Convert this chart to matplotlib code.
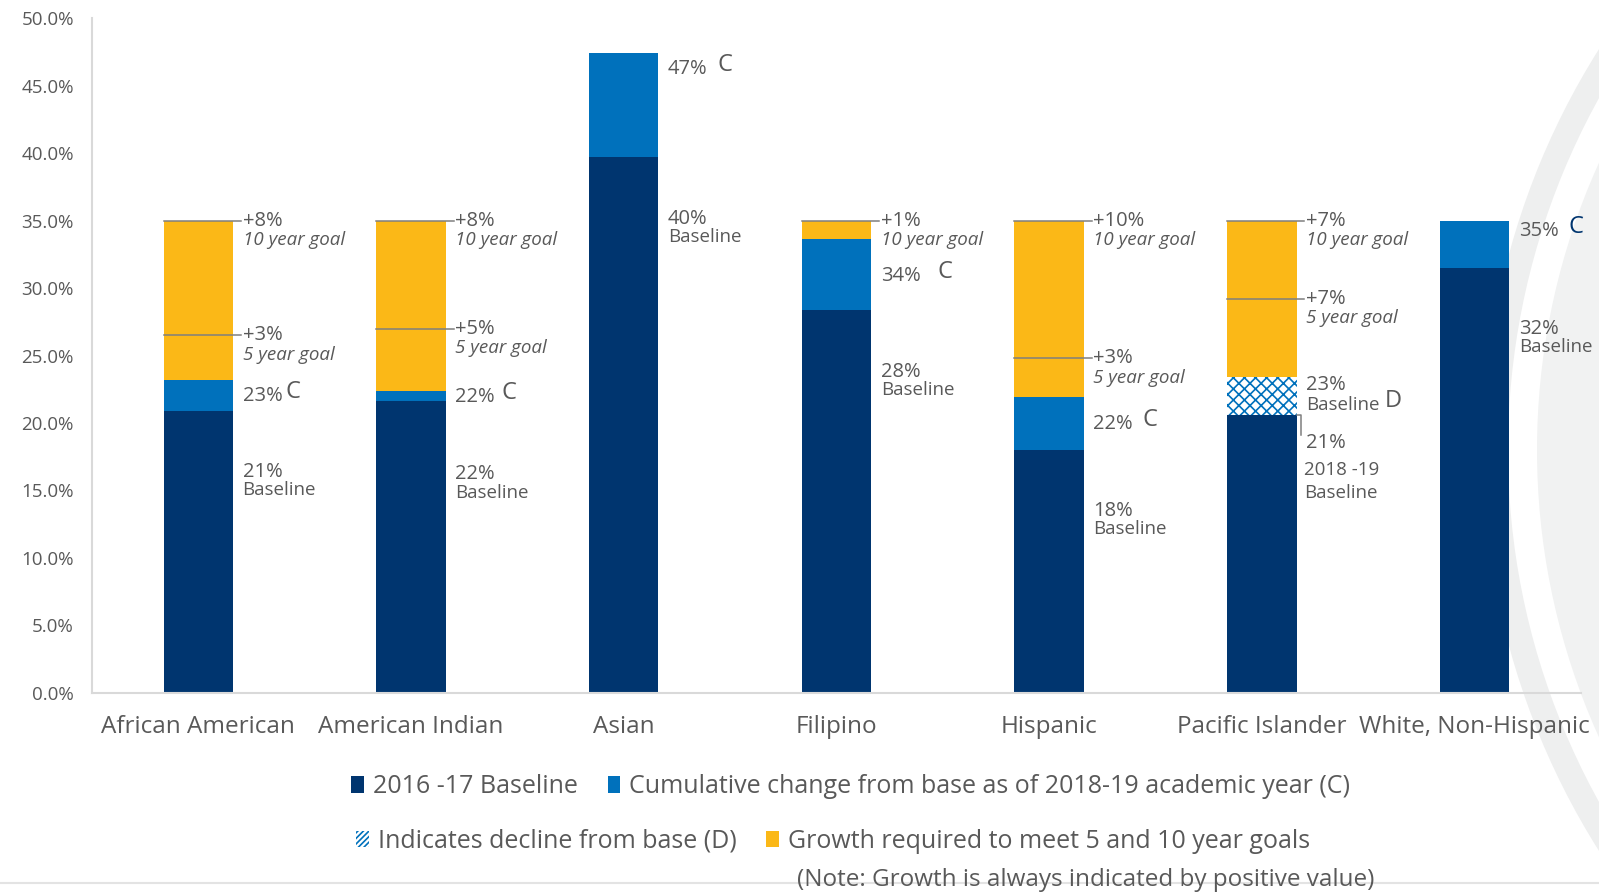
import numpy as np
import matplotlib
matplotlib.use("Agg")
import matplotlib.pyplot as plt
from matplotlib.patches import Patch, Circle, Wedge

# ---- data (percent) ----
categories = ['African American', 'American Indian', 'Asian', 'Filipino',
              'Hispanic', 'Pacific Islander', 'White, Non-Hispanic']
baseline_1617 = [20.9, 21.6, 39.7, 28.4, 18.0, 23.4, 31.5]
current_1819 = [23.2, 22.4, 47.4, 33.6, 21.9, 20.6, 35.0]
goal_5yr = [26.5, 27.0, np.nan, np.nan, 24.8, 29.2, np.nan]
goal_10yr = [35.0, 35.0, np.nan, 35.0, 35.0, 35.0, np.nan]

base_labels = ['21%', '22%', '40%', '28%', '18%', '23%', '32%']
cur_labels = ['23%', '22%', '47%', '34%', '22%', '21%', '35%']
goal5_labels = ['+3%', '+5%', '', '', '+3%', '+7%', '']
goal10_labels = ['+8%', '+8%', '', '+1%', '+10%', '+7%', '']

NAVY = '#00356F'
BLUE = '#0071BC'
GOLD = '#FBB817'
GRAY = '#595959'
LINE = '#7F7F7F'

plt.rcParams['font.family'] = ['Open Sans', 'DejaVu Sans']
plt.rcParams['hatch.linewidth'] = 1.2

fig = plt.figure(figsize=(15.99, 8.93), dpi=100)

# background watermark ring + bottom rule
bg = fig.add_axes([0, 0, 1, 1], zorder=0)
bg.set_xlim(0, 1599)
bg.set_ylim(893, 0)
bg.axis('off')
bg.add_patch(Circle((2234, 450), 697, color='#F1F2F2', lw=0))
bg.add_patch(Wedge((2234, 450), 751, 0, 360, width=25, color='#EEEFEF', lw=0))
bg.plot([0, 1599], [883, 883], color='#E3E3E3', lw=1.5)

ax = fig.add_axes([0.0575, 0.224, 0.9312, 0.7558], zorder=1)
ax.patch.set_alpha(0)

x = np.arange(len(categories))
base = np.array(baseline_1617)
cur = np.array(current_1819)
g5 = np.array(goal_5yr)
g10 = np.array(goal_10yr)
w = 0.326
hw = w / 2

lower = np.minimum(base, cur)
upper = np.maximum(base, cur)
ax.bar(x, lower, w, color=NAVY, zorder=2)
ax.bar(x, np.where(cur > base, cur - base, 0), w, bottom=base, color=BLUE, zorder=2)
ax.bar(x, np.where(cur < base, base - cur, 0), w, bottom=cur, color='white',
       hatch='xxx', edgecolor=BLUE, linewidth=0, zorder=2)
ax.bar(x, np.nan_to_num(g10 - upper), w, bottom=upper, color=GOLD, zorder=2)

tx = hw + 0.045
fs = 14.5     # percent labels
fs2 = 13.5    # words

def goal_label(i, val, s):
    ax.plot([x[i] - hw, x[i] + tx - 0.008], [val, val], color=LINE, lw=1.1, zorder=3)
    ax.text(x[i] + tx, val, s, color=GRAY, fontsize=fs, va='center', ha='left')

for i in range(len(categories)):
    if not np.isnan(g10[i]):
        goal_label(i, g10[i], goal10_labels[i])
        ax.text(x[i] + tx, g10[i] - 1.45, '10 year goal', color=GRAY, fontsize=fs2,
                style='italic', va='center')
    if not np.isnan(g5[i]):
        goal_label(i, g5[i], goal5_labels[i])
        ax.text(x[i] + tx, g5[i] - 1.45, '5 year goal', color=GRAY, fontsize=fs2,
                style='italic', va='center')

# label positions
change_label_y = [22.0, 21.9, 46.2, 30.9, 19.9, None, 34.2]
base_label_drop = [4.5, 5.4, 4.6, 4.6, 4.5, None, 4.5]
c_gap = [2, 5, 7, 12, 7, None, 7]

for i in range(len(categories)):
    if cur[i] >= base[i]:
        t = ax.text(x[i] + tx, change_label_y[i], cur_labels[i], color=GRAY,
                    fontsize=fs, va='center')
        ax.annotate('C', xy=(1, 0.1), xycoords=t, xytext=(c_gap[i], 0),
                    textcoords='offset points', fontsize=17, va='bottom',
                    color=NAVY if i == 6 else GRAY)
        yb = base[i] - base_label_drop[i]
        ax.text(x[i] + tx, yb, base_labels[i], color=GRAY, fontsize=fs, va='center')
        ax.text(x[i] + tx, yb - 1.35, 'Baseline', color=GRAY, fontsize=fs2, va='center')
    else:
        # decline: 2016-17 baseline above, 2018-19 value below
        ax.text(x[i] + tx, base[i] - 0.6, base_labels[i], color=GRAY, fontsize=fs, va='center')
        t = ax.text(x[i] + tx, base[i] - 2.1, 'Baseline', color=GRAY, fontsize=fs2,
                    va='center')
        ax.annotate('D', xy=(1, 0.08), xycoords=t, xytext=(4, 0),
                    textcoords='offset points', fontsize=17, va='bottom', color=GRAY)
        bx = x[i] + hw + 0.02
        ax.plot([x[i] + hw, bx, bx], [cur[i], cur[i], cur[i] - 1.5], color=LINE,
                lw=1.1, zorder=3)
        ax.text(x[i] + tx, cur[i] - 2.1, cur_labels[i], color=GRAY, fontsize=fs, va='center')
        ax.text(x[i] + tx - 0.01, cur[i] - 4.1, '2018 -19', color=GRAY, fontsize=fs2,
                va='center')
        ax.text(x[i] + tx - 0.01, cur[i] - 5.8, 'Baseline', color=GRAY, fontsize=fs2,
                va='center')

ax.set_xlim(-0.5, len(categories) - 0.5)
ax.set_ylim(0, 50)
ax.set_yticks(np.arange(0, 50.1, 5))
ax.set_yticklabels([f'{v:.1f}%' for v in np.arange(0, 50.1, 5)])
ax.set_xticks(x)
ax.set_xticklabels(categories)
ax.tick_params(axis='y', length=0, labelsize=13.5, labelcolor=GRAY, pad=13)
ax.tick_params(axis='x', length=0, labelsize=17.5, labelcolor=GRAY, pad=16)
for s in ['top', 'right']:
    ax.spines[s].set_visible(False)
for s in ['left', 'bottom']:
    ax.spines[s].set_color('#D9D9D9')
    ax.spines[s].set_linewidth(1.5)

# legend rows
row1 = [Patch(facecolor=NAVY, label='2016 -17 Baseline'),
        Patch(facecolor=BLUE, label='Cumulative change from base as of 2018-19 academic year (C)')]
row2 = [Patch(facecolor='white', edgecolor=BLUE, hatch='//////', lw=0,
              label='Indicates decline from base (D)'),
        Patch(facecolor=GOLD, label='Growth required to meet 5 and 10 year goals')]
leg_kw = dict(ncol=2, frameon=False, fontsize=18, handlelength=0.5,
              handleheight=0.65, handletextpad=0.35, columnspacing=1.2,
              labelcolor=GRAY, loc='center')
fig.legend(handles=row1, bbox_to_anchor=(0.532, 0.119), **leg_kw)
fig.legend(handles=row2, bbox_to_anchor=(0.521, 0.058), **leg_kw)
fig.text(0.679, 0.0145, '(Note: Growth is always indicated by positive value)',
         fontsize=17.5, color=GRAY, ha='center', va='center')

fig.savefig('out.png', dpi=100)
